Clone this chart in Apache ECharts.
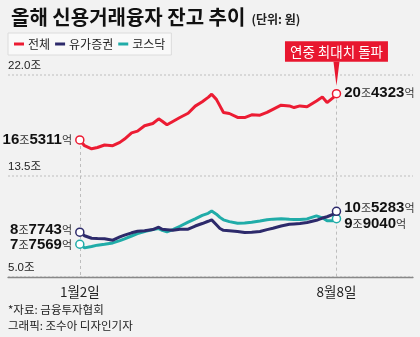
<!DOCTYPE html>
<html>
<head>
<meta charset="utf-8">
<script src="https://cdn.jsdelivr.net/npm/echarts@6/dist/echarts.min.js"></script>
<style>
html,body{margin:0;padding:0;background:#f2f2f2;}
#c{width:420px;height:337px;}
</style>
</head>
<body>
<div id="c"></div>
<script>
// Day offsets from Jan 2 (0) to Aug 8 (218)
const days = [0,4,10,15,21,28,34,38,44,49,55,62,67,70,74,79,85,92,98,104,109,112,116,119,122,127,134,140,146,153,159,164,171,178,182,187,193,201,206,210,215,218];
// 전체 (조원)
const totalValues = [16.5311,16.05,15.79,15.90,16.11,16.05,16.33,16.61,17.13,17.28,17.73,17.92,18.31,18.11,17.81,18.09,18.42,18.78,19.38,19.75,20.12,20.38,19.95,19.40,18.84,18.76,18.43,18.42,18.65,18.62,18.85,19.11,19.46,19.40,19.26,19.40,19.32,19.82,20.14,19.68,20.07,20.4323];
// 유가증권
const kospiValues = [8.7743,8.47,8.26,8.24,8.22,8.10,8.37,8.52,8.72,8.85,8.89,8.99,9.19,9.02,8.98,8.93,9.02,9.02,9.29,9.50,9.69,9.81,9.40,9.08,8.93,8.89,8.83,8.74,8.77,8.83,8.99,9.10,9.29,9.44,9.47,9.50,9.58,9.77,9.96,10.07,10.27,10.5283];
// 코스닥
const kosdaqValues = [7.7569,7.45,7.57,7.68,7.76,7.87,8.06,8.21,8.45,8.65,8.83,8.99,9.07,8.93,8.81,8.99,9.27,9.62,9.89,10.19,10.36,10.55,10.29,10.02,9.81,9.66,9.52,9.54,9.60,9.71,9.81,9.87,9.91,9.86,9.84,9.83,9.89,10.15,9.98,9.73,9.74,9.9040];

const seriesNames = ['전체','유가증권','코스닥'];
const startLabels = ['16조5311억','8조7743억','7조7569억'];
const endLabels = ['20조4323억','10조5283억','9조9040억'];
const xTickDays = [0, 218];
const xTickLabels = ['1월2일','8월8일'];
const yTicks = [5, 13.5, 22];
const annotationText = '연중 최대치 돌파';

const colors = ['#ec1c33','#2d2a6b','#20aca8'];
const startOffsets = [[0,0],[0,-2],[0,1]];
const endOffsets = [[0,-1],[0,-3],[0,5]];

function richLabel(s){
  return s.replace(/(\d+)/g,'{n|$1}').replace(/([조억])/g,'{u|$1}');
}
const rich = {
  n:{fontFamily:"'Liberation Sans Narrow','Arial Narrow','Liberation Sans',sans-serif",fontWeight:'bold',fontSize:15,color:'#111'},
  u:{fontFamily:"'Noto Sans CJK KR',sans-serif",fontSize:11,color:'#333'}
};

function buildData(vals, si){
  const last = vals.length-1;
  return days.map((d,i)=>{
    if(i===0 || i===last){
      const isStart = i===0;
      return {
        value:[d, vals[i]],
        symbol:'circle',
        symbolSize:8,
        itemStyle:{color:'#fff',borderColor:colors[si],borderWidth:1.5},
        label:{
          show:true,
          position:isStart?'left':'right',
          distance:3,
          offset:isStart?startOffsets[si]:endOffsets[si],
          formatter:richLabel(isStart?startLabels[si]:endLabels[si]),
          rich:rich
        }
      };
    }
    return {value:[d, vals[i]], symbolSize:0};
  });
}
const allValues = [totalValues, kospiValues, kosdaqValues];

const series = allValues.map((vals,si)=>({
  name:seriesNames[si],
  type:'line',
  data:buildData(vals,si),
  symbol:'circle',
  symbolSize:0,
  showAllSymbol:true,
  color:colors[si],
  lineStyle:{width:3,color:colors[si]},
  itemStyle:{color:colors[si]},
  z:3+ (si===0?2:(si===1?1:0)),
  animation:false
}));

series[0].markPoint = {
  z:6,
  silent:true,
  animation:false,
  data:[{
    coord:[days[days.length-1], totalValues[totalValues.length-1]],
    symbol:'path://M0,0L10,0L5,30Z',
    symbolSize:[6,24],
    symbolKeepAspect:false,
    symbolOffset:[0,-20],
    itemStyle:{color:'#e8172f'},
    label:{
      show:true,
      position:'top',
      distance:0,
      formatter:annotationText,
      color:'#fff',
      backgroundColor:'#e8172f',
      padding:[4,5,3,5],
      fontSize:13.5,
      fontFamily:"'Noto Sans CJK KR',sans-serif"
    }
  }]
};

series.push({
  name:'guides',
  type:'line',
  data:[],
  z:1,
  silent:true,
  markLine:{
    z:1,
    silent:true,
    animation:false,
    symbol:['none','none'],
    label:{show:false},
    lineStyle:{type:[3,3],color:'#bdbdbd',width:1},
    data:[
      [{coord:[xTickDays[0], totalValues[0]]},{coord:[xTickDays[0], yTicks[0]]}],
      [{coord:[xTickDays[1], totalValues[totalValues.length-1]]},{coord:[xTickDays[1], yTicks[0]]}]
    ]
  }
});

const chart = echarts.init(document.getElementById('c'), null, {renderer:'canvas'});
chart.setOption({
  backgroundColor:'#f2f2f2',
  animation:false,
  textStyle:{fontFamily:"'Noto Sans CJK KR',sans-serif"},
  title:{
    left:6, top:2,
    text:'{a|올해 신용거래융자 잔고 추이} {b|(단위: 원)}',
    textStyle:{
      rich:{
        a:{fontSize:20,fontWeight:'bold',color:'#111',fontFamily:"'Noto Sans CJK KR',sans-serif"},
        b:{fontSize:12,color:'#222',fontFamily:"'Noto Sans CJK KR',sans-serif",padding:[4,0,0,2]}
      }
    }
  },
  legend:{
    left:8, top:33,
    data:seriesNames,
    icon:'rect',
    itemWidth:10, itemHeight:3,
    itemGap:5,
    padding:[5,6,5,6],
    backgroundColor:'#f9f9f9',
    borderColor:'#dcdcdc',
    borderWidth:1,
    textStyle:{fontSize:12,color:'#222',padding:[0,0,0,-1]}
  },
  grid:{left:8,right:7,top:75,bottom:60,containLabel:false},
  xAxis:{
    type:'value',
    min:-61, max:283,
    splitLine:{show:false},
    axisTick:{show:false},
    axisLine:{lineStyle:{color:'#888',width:1.3}},
    axisLabel:{
      customValues:xTickDays,
      formatter:(v)=>{const i=xTickDays.indexOf(v);return i>=0?xTickLabels[i]:'';},
      fontSize:13.5,color:'#222',margin:8
    }
  },
  yAxis:{
    type:'value',
    min:yTicks[0], max:yTicks[2], interval:yTicks[1]-yTicks[0],
    axisLine:{show:false},
    axisTick:{show:false},
    splitLine:{lineStyle:{type:[2,2],color:'#cfcfcf',width:1.5}},
    axisLabel:{
      inside:true,
      margin:0,
      align:'left',
      verticalAlign:'bottom',
      padding:[0,0,3,0],
      formatter:(v)=>v.toFixed(1)+'조',
      fontSize:11.5,color:'#222',
      fontFamily:"'Liberation Sans','Noto Sans CJK KR',sans-serif"
    }
  },
  graphic:[
    {type:'text',left:8,top:304,style:{text:'*자료: 금융투자협회',fontSize:11.5,fill:'#222',fontFamily:"'Noto Sans CJK KR',sans-serif"}},
    {type:'text',left:8,top:320,style:{text:'그래픽: 조수아 디자인기자',fontSize:11.5,fill:'#222',fontFamily:"'Noto Sans CJK KR',sans-serif"}}
  ],
  series:series
});
</script>
</body>
</html>
